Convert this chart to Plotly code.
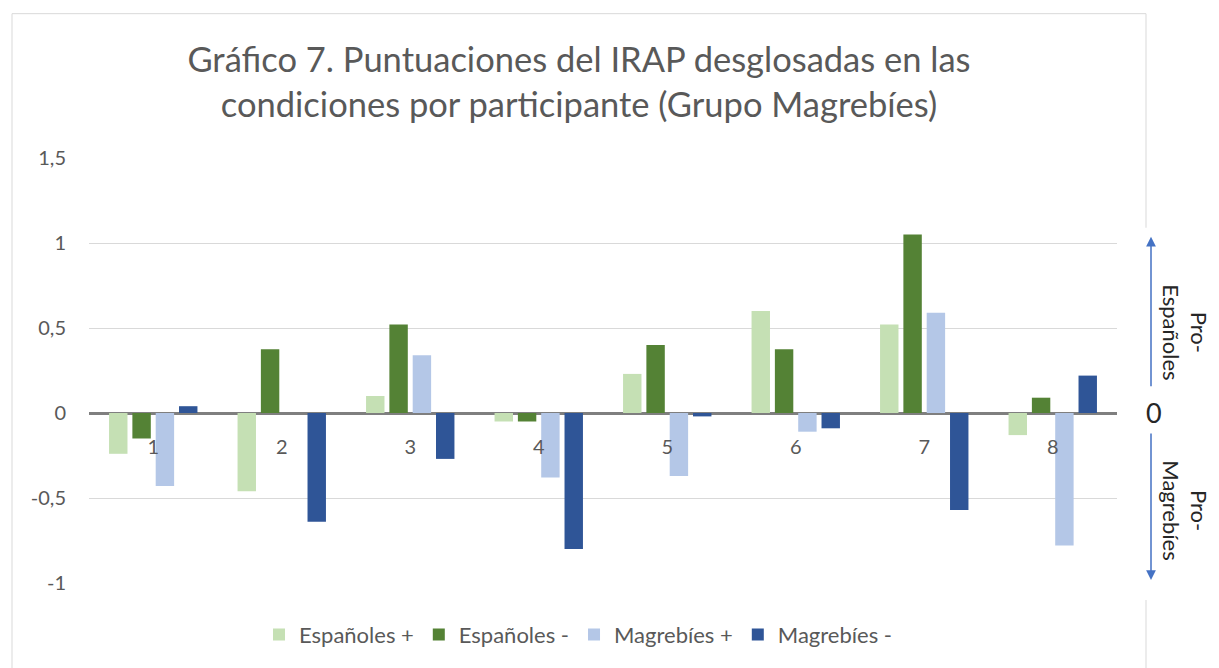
import plotly.graph_objects as go

participants = ["1", "2", "3", "4", "5", "6", "7", "8"]
espanoles_pos = [-0.24, -0.46, 0.10, -0.05, 0.23, 0.60, 0.52, -0.13]
espanoles_neg = [-0.15, 0.375, 0.52, -0.05, 0.40, 0.375, 1.05, 0.09]
magrebies_pos = [-0.43, 0.0, 0.34, -0.38, -0.37, -0.11, 0.59, -0.78]
magrebies_neg = [0.04, -0.64, -0.27, -0.80, -0.02, -0.09, -0.57, 0.22]

series_names = ["Españoles +", "Españoles -", "Magrebíes +", "Magrebíes -"]
series_values = [espanoles_pos, espanoles_neg, magrebies_pos, magrebies_neg]
series_colors = ["#c5e0b4", "#548235", "#b4c7e7", "#2f5597"]

y_tickvals = [-1, -0.5, 0, 0.5, 1, 1.5]
y_ticktext = ["-1", "-0,5", "0", "0,5", "1", "1,5"]

FONT = "Lato"
GREY = "#595959"
DARK = "#262626"

fig = go.Figure()
for name, vals, col in zip(series_names, series_values, series_colors):
    fig.add_trace(go.Bar(x=participants, y=vals, name=name,
                         marker=dict(color=col, line=dict(width=0))))

# page offset produced by the default body margin
O = 8
W, H = 1219 - O, 668 - O
L, R, T, B = 81, 102, 150, 83
pw, ph = W - L - R, H - T - B


def px(x):
    """page x (window pixels) -> paper fraction"""
    return (x - O - L) / pw


def py(y):
    """page y (window pixels) -> paper fraction"""
    return (H - B - (y - O)) / ph


fig.update_layout(
    width=W, height=H,
    margin=dict(l=L, r=R, t=T, b=B),
    paper_bgcolor="white", plot_bgcolor="white",
    barmode="group", bargap=0.274, bargroupgap=0.21,
    font=dict(family=FONT, color=GREY, size=20),
    title=dict(
        text="Gráfico 7. Puntuaciones del IRAP desglosadas en las<br>condiciones por participante (Grupo Magrebíes)",
        x=(579 - O) / W, xanchor="center", xref="container",
        y=1 - 64 / H, yanchor="top", yref="container",
        font=dict(family=FONT, size=34.5, color=GREY),
    ),
    xaxis=dict(
        anchor="free", position=py(414),
        showgrid=False, showline=False, ticks="",
        ticklabelstandoff=20,
        tickfont=dict(size=20, color=GREY),
    ),
    yaxis=dict(
        range=[-1, 1.5], tickvals=y_tickvals, ticktext=y_ticktext,
        showgrid=True, gridcolor="#d9d9d9", gridwidth=1,
        zeroline=True, zerolinecolor="#7f7f7f", zerolinewidth=2.5,
        showline=False, ticks="", ticklabelstandoff=22,
        tickfont=dict(size=20, color=GREY),
    ),
    legend=dict(
        orientation="h", x=px(578), xanchor="center",
        y=py(637), yanchor="middle",
        font=dict(size=22, color=GREY),
        itemwidth=30, traceorder="normal",
    ),
    showlegend=True,
)

# chart border + white cover behind side labels
fig.add_shape(type="rect", xref="paper", yref="paper",
              x0=px(12), x1=px(1146), y0=py(720), y1=py(13),
              line=dict(color="#d9d9d9", width=1), fillcolor="rgba(0,0,0,0)", layer="below")
fig.add_shape(type="rect", xref="paper", yref="paper",
              x0=px(1138), x1=px(1230), y0=py(602), y1=py(228),
              line=dict(width=0), fillcolor="white", layer="below")

# arrows and side labels
ARROW = "#4472c4"
fig.add_annotation(xref="paper", yref="paper", x=px(1151), y=py(237), ax=0, ay=151,
                   text="", showarrow=True, arrowhead=2, arrowsize=1.3, arrowwidth=1.5,
                   arrowcolor=ARROW)
fig.add_annotation(xref="paper", yref="paper", x=px(1151), y=py(582), ax=0, ay=-148,
                   text="", showarrow=True, arrowhead=2, arrowsize=1.3, arrowwidth=1.5,
                   arrowcolor=ARROW)
fig.add_annotation(xref="paper", yref="paper", x=px(1154), y=py(414), text="0",
                   xanchor="center", yanchor="middle",
                   showarrow=False, font=dict(size=27, color=DARK, family=FONT))
fig.add_annotation(xref="paper", yref="paper", x=px(1185), y=py(333),
                   xanchor="center", yanchor="middle",
                   text="Pro-<br>Españoles", textangle=90, showarrow=False,
                   font=dict(size=22, color=DARK, family=FONT))
fig.add_annotation(xref="paper", yref="paper", x=px(1185), y=py(512),
                   xanchor="center", yanchor="middle",
                   text="Pro-<br>Magrebíes", textangle=90, showarrow=False,
                   font=dict(size=22, color=DARK, family=FONT))

fig.write_html("out.html")
